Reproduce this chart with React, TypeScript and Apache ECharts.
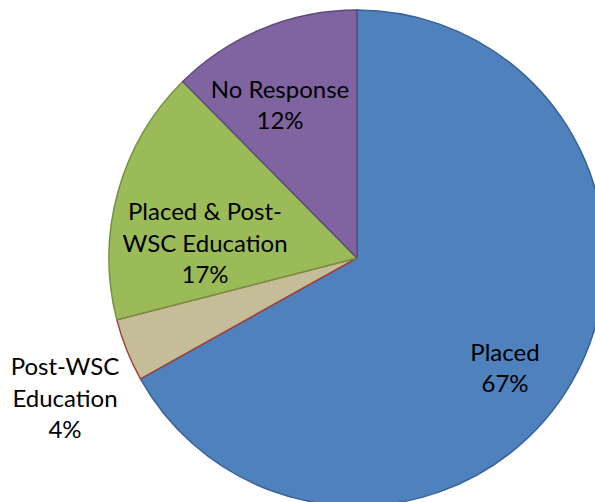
import React, { useEffect, useRef } from "react";
import * as echarts from "echarts";

const categories = ["Placed", "Post-WSC Education", "Placed & Post-WSC Education", "No Response"];
const labelNames = ["Placed", "Post-WSC\nEducation", "Placed & Post-\nWSC Education", "No Response"];
const values = [66.9, 4.1, 16.6, 12.4];
const fillColors = ["#4F81BD", "#C4BD97", "#9BBB59", "#8064A2"];
const borderColors = ["#3A6296", "#A0413E", "#779140", "#5E4A7D"];
const labelPos: [number, number][] = [
  [505, 367],
  [65, 397],
  [205, 242],
  [280, 104],
];

export default function App() {
  const ref = useRef<HTMLDivElement>(null);
  useEffect(() => {
    if (!ref.current) return;
    const chart = echarts.init(ref.current, undefined, { renderer: "svg" });
    chart.setOption({
      animation: false,
      backgroundColor: "#ffffff",
      series: [
        {
          type: "pie",
          center: [357, 258],
          radius: 248,
          startAngle: 90,
          clockwise: true,
          avoidLabelOverlap: false,
          silent: true,
          data: categories.map((c, i) => ({
            name: c,
            value: values[i],
            itemStyle: { color: fillColors[i], borderColor: borderColors[i], borderWidth: 1.5 },
          })),
          label: {
            show: true,
            position: "inside",
            color: "#000",
            fontFamily: "Lato, 'Liberation Sans', sans-serif",
            fontSize: 24,
            lineHeight: 31.5,
            align: "center",
            formatter: (p: any) => `${labelNames[p.dataIndex]}\n${Math.round(p.percent)}%`,
          },
          labelLine: { show: false },
          labelLayout: (p: any) => ({
            x: labelPos[p.dataIndex][0],
            y: labelPos[p.dataIndex][1],
            align: "center",
            verticalAlign: "middle",
          }),
        },
      ],
    });
    return () => chart.dispose();
  }, []);
  return (
    <div
      ref={ref}
      style={{ position: "fixed", left: 0, top: 0, width: 595, height: 502 }}
    />
  );
}
